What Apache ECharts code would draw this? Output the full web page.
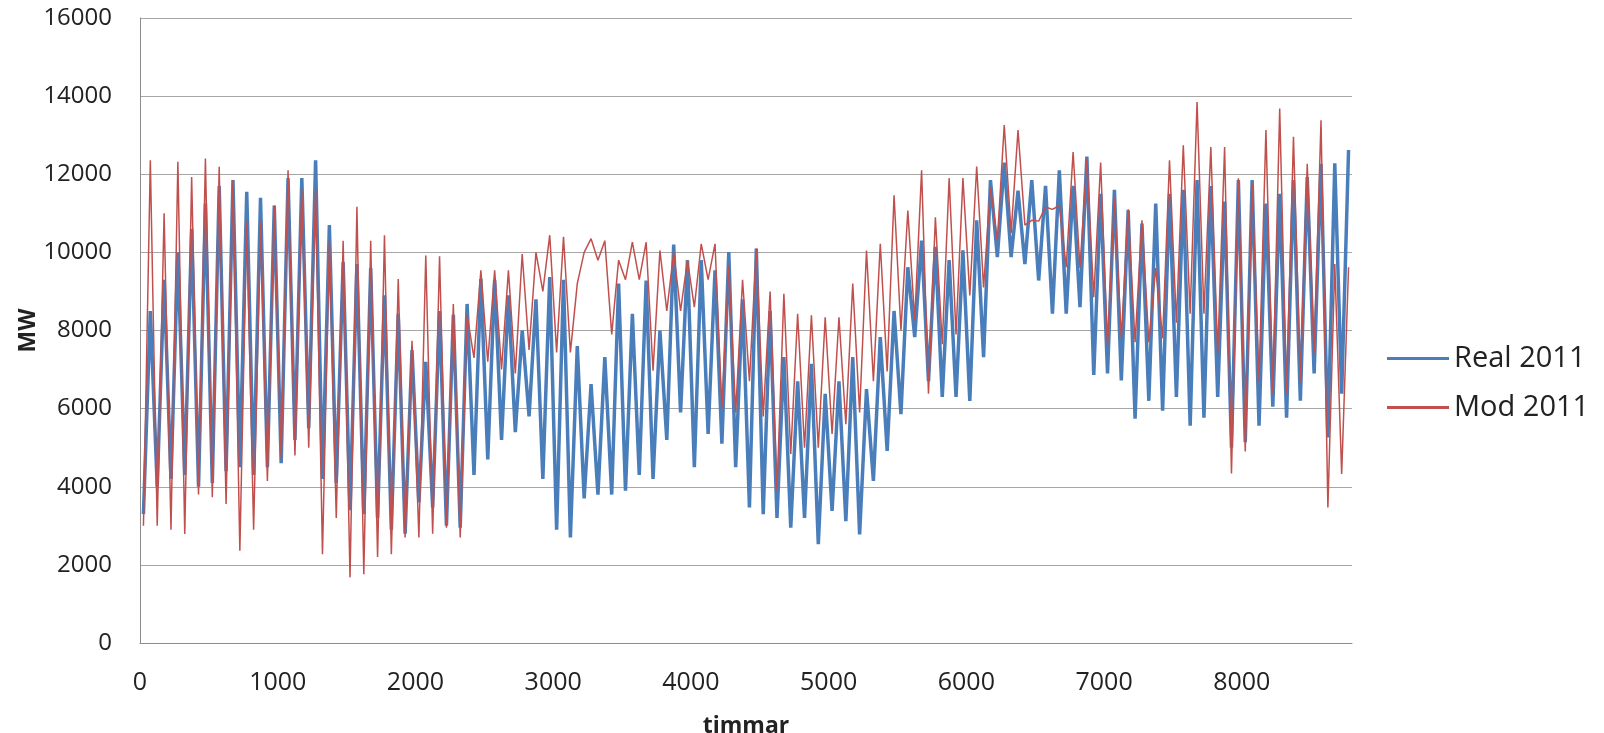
<!DOCTYPE html>
<html>
<head>
<meta charset="utf-8">
<title>Real 2011 / Mod 2011</title>
<script src="https://cdn.jsdelivr.net/npm/echarts@6/dist/echarts.min.js"></script>
<style>
  html, body { margin: 0; padding: 0; background: #ffffff; }
  #chart { width: 1604px; height: 733px; }
</style>
</head>
<body>
<div id="chart"></div>
<script>
// values, one low and one high per 100-hour block (MW)
var binHours = 100;
var realHi = [8500, 9300, 10000, 10600, 11250, 11700, 11850, 11550, 11400, 11200,
  11900, 11900, 12360, 10700, 9750, 9700, 9600, 8900, 8430, 7500,
  7200, 8500, 8400, 8680, 9320, 9300, 8900, 8000, 8800, 9370,
  9300, 7600, 6630, 7320, 9200, 8430, 9280, 8000, 10200, 9800,
  9800, 9540, 10010, 8800, 10100, 8500, 7320, 6700, 7150, 6380,
  6700, 7320, 6500, 7830, 8500, 9620, 10300, 10140, 9800, 10050,
  10820, 11850, 12300, 11580, 11850, 11700, 12100, 11700, 12450, 11500,
  11600, 11080, 10740, 11250, 11500, 11600, 11850, 11700, 11300, 11850,
  11850, 11250, 11500, 11850, 11930, 12270, 12280, 12620];
var realLo = [3300, 4000, 4200, 4300, 4000, 4100, 4400, 4500, 4300, 4500,
  4600, 5200, 5500, 4200, 4100, 3400, 3300, 3200, 2900, 2800,
  3600, 3470, 3000, 2950, 4300, 4700, 5200, 5400, 5800, 4200,
  2900, 2700, 3700, 3800, 3800, 3900, 4300, 4200, 5200, 5900,
  4500, 5350, 5100, 4500, 3470, 3300, 3200, 2950, 3200, 2530,
  3380, 3120, 2780, 4150, 4920, 5860, 7830, 6700, 6300, 6300,
  6200, 7320, 9880, 9880, 9700, 9280, 8430, 8430, 8600, 6860,
  6900, 6720, 5740, 6200, 5950, 6300, 5560, 5770, 6300, 5000,
  5140, 5560, 6050, 5770, 6200, 6900, 5260, 6380];
var modHi = [12360, 11000, 12320, 11930, 12400, 12190, 11850, 10800, 10800, 11200,
  12100, 11600, 11600, 10300, 10300, 11170, 10300, 10440, 9320, 7740,
  9920, 9900, 8680, 8400, 9540, 9540, 9540, 9960, 10000, 10440,
  10400, 9200, 10350, 10300, 9800, 10260, 10260, 10050, 10000, 9800,
  10220, 10220, 9670, 9300, 10100, 9000, 8940, 8430, 8390, 8340,
  8340, 9200, 10050, 10220, 11460, 11070, 12100, 10900, 11900, 11900,
  12200, 11670, 13260, 13130, 10820, 11160, 11200, 12570, 12400, 12300,
  11400, 11100, 10820, 9600, 12360, 12740, 13850, 12700, 12700, 11900,
  11760, 13130, 13680, 12960, 12270, 13380, 9700, 9620];
var modLo = [3000, 3000, 2900, 2790, 3800, 3730, 3560, 2360, 2900, 4150,
  4700, 4800, 5000, 2270, 3200, 1680, 1760, 2200, 2270, 2700,
  2700, 2800, 2950, 2700, 7300, 7200, 7000, 6900, 7500, 9000,
  7440, 7440, 10000, 9800, 7900, 9300, 9300, 6970, 8500, 8500,
  8600, 9300, 6000, 5900, 6700, 5800, 3900, 4840, 5000, 5000,
  5350, 5600, 5900, 6700, 6950, 8000, 8260, 6380, 7650, 7900,
  8900, 9100, 10300, 10500, 10700, 10800, 11100, 9620, 9600, 8850,
  7610, 7800, 7700, 7700, 7800, 8200, 8430, 8430, 7400, 4340,
  4900, 6700, 6380, 6400, 6700, 7400, 3470, 4330];
var xTicks = [0, 1000, 2000, 3000, 4000, 5000, 6000, 7000, 8000];
var yTicks = [0, 2000, 4000, 6000, 8000, 10000, 12000, 14000, 16000];

var chart = echarts.init(document.getElementById("chart"));

// each block is drawn low then high, so the line swings like the hourly load
function buildLine(lo, hi) {
  var pts = [];
  for (var i = 0; i < lo.length; i++) {
    pts.push([i * binHours + binHours * 0.25, lo[i]]);
    pts.push([i * binHours + binHours * 0.75, hi[i]]);
  }
  return pts;
}

var fontName = "Open Sans";
var textColor = "#222222";
var gridColor = "#a6a6a6";

var option = {
  animation: false,
  backgroundColor: "#ffffff",
  grid: {
    left: 140,
    right: 252,
    top: 18,
    bottom: 90,
    outerBoundsMode: "none"
  },
  legend: {
    orient: "vertical",
    left: 1382,
    top: 339,
    itemGap: 20,
    itemWidth: 62,
    itemHeight: 3,
    textStyle: { fontFamily: fontName, fontSize: 29, color: textColor },
    data: [
      { name: "Real 2011", icon: "rect" },
      { name: "Mod 2011", icon: "rect" }
    ]
  },
  xAxis: {
    type: "value",
    min: xTicks[0],
    max: 8800,
    interval: 1000,
    name: "timmar",
    nameLocation: "middle",
    nameGap: 72,
    nameMoveOverlap: false,
    nameTextStyle: { fontFamily: fontName, fontSize: 23, fontWeight: "bold", color: textColor },
    splitLine: { show: false },
    axisTick: { show: false },
    axisLine: { show: true, lineStyle: { color: "#8c8c8c", width: 1 } },
    axisLabel: {
      fontFamily: fontName,
      fontSize: 25,
      color: textColor,
      margin: 27,
      showMaxLabel: false,
      formatter: function (v) { return String(v); }
    }
  },
  yAxis: {
    type: "value",
    min: yTicks[0],
    max: yTicks[yTicks.length - 1],
    interval: 2000,
    name: "MW",
    nameLocation: "middle",
    nameGap: 100,
    nameRotate: 90,
    nameMoveOverlap: false,
    nameTextStyle: { fontFamily: fontName, fontSize: 23, fontWeight: "bold", color: textColor },
    splitLine: { show: true, lineStyle: { color: gridColor, width: 1 } },
    axisTick: { show: false },
    axisLine: { show: true, lineStyle: { color: "#8c8c8c", width: 1 } },
    axisLabel: {
      fontFamily: fontName,
      fontSize: 24,
      color: textColor,
      margin: 28,
      formatter: function (v) { return String(v); }
    }
  },
  series: [
    {
      name: "Real 2011",
      type: "line",
      symbol: "none",
      color: "#4a7ebb",
      lineStyle: { width: 3.5, color: "#4a7ebb" },
      data: buildLine(realLo, realHi)
    },
    {
      name: "Mod 2011",
      type: "line",
      symbol: "none",
      color: "#c0504d",
      lineStyle: { width: 1.5, color: "#c0504d" },
      data: buildLine(modLo, modHi)
    }
  ]
};

chart.setOption(option, true);
window.addEventListener("resize", function () {
  chart.resize();
});
</script>
</body>
</html>
